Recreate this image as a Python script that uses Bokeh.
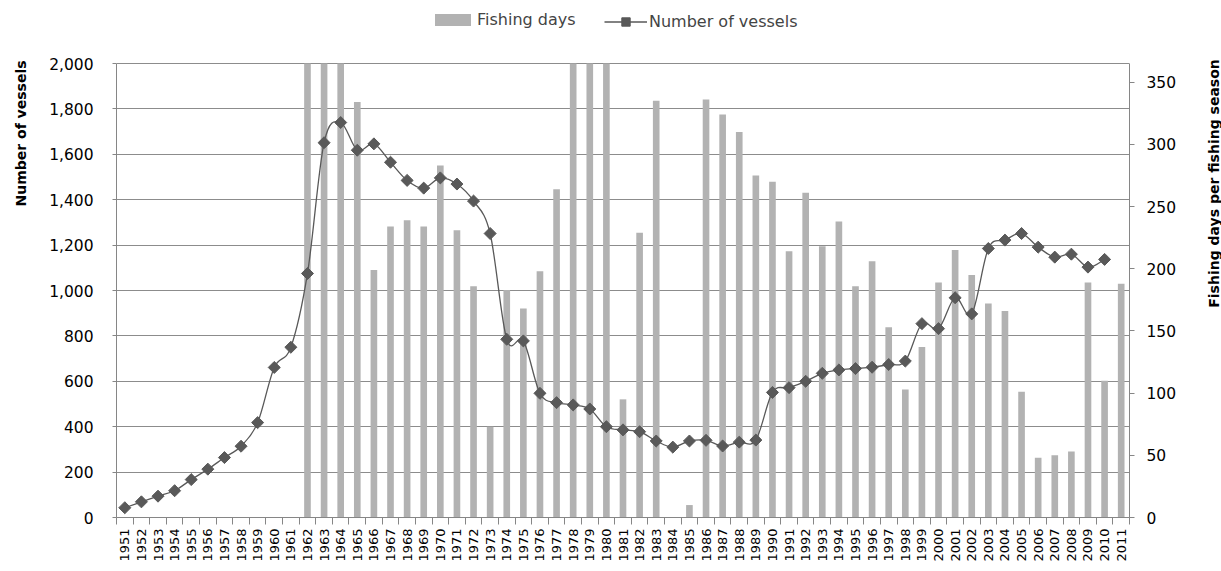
import math
from bokeh.plotting import figure
from bokeh.layouts import row
from bokeh.models import (Range1d, LinearAxis, FixedTicker, NumeralTickFormatter,
                          Legend, LegendItem, Label)
from bokeh.embed import file_html
from bokeh.resources import INLINE

years = list(range(1951, 2012))

# Fishing days per fishing season (right axis), 1951-2011
days = [0, 0, 0, 0, 0, 0, 0, 0, 0, 0, 0,
        365, 365, 365, 334, 199, 234, 239, 234, 283, 231,
        186, 73, 183, 168, 198, 264, 365, 365, 365, 95,
        229, 335, 0, 10, 336, 324, 310, 275, 270, 214,
        261, 218, 238, 186, 206, 153, 103, 137, 189, 215,
        195, 172, 166, 101, 48, 50, 53, 189, 110, 188]

# Number of vessels (left axis), 1951-2010
vessel_years = list(range(1951, 2011))
vessels = [43, 69, 94, 118, 167, 213, 264, 314, 418, 661,
           750, 1075, 1651, 1740, 1618, 1646, 1565, 1485, 1451, 1496,
           1469, 1394, 1251, 785, 778, 547, 506, 496, 478, 400,
           386, 378, 337, 310, 337, 340, 315, 332, 341, 551,
           572, 600, 635, 650, 656, 662, 674, 689, 854, 832,
           968, 897, 1185, 1222, 1251, 1191, 1147, 1160, 1103, 1137]

left_max, right_max = 2000, 365
left_ticks = list(range(0, 2001, 200))
right_ticks = list(range(0, 351, 50))

BAR = "#b2b2b2"
LINE = "#595959"
AXIS = "#868686"
FONT = "DejaVu Sans"

W, H = 1221, 571
LEFT_W, RIGHT_W = 32, 24
MAIN_W = W - LEFT_W - RIGHT_W
FRAME_TOP, GRID_TOP, FRAME_BOTTOM = 10, 63, 517   # layout (px, page coords)
FRAME_LEFT, FRAME_RIGHT = 116, 1129
ext = (FRAME_BOTTOM - FRAME_TOP) / (FRAME_BOTTOM - GRID_TOP)

p = figure(width=MAIN_W, height=H, output_backend="svg", toolbar_location=None,
           x_range=Range1d(1950.5, 2011.5), y_range=Range1d(0, left_max * ext),
           min_border_left=FRAME_LEFT - LEFT_W,
           min_border_right=(W - RIGHT_W) - FRAME_RIGHT,
           min_border_top=FRAME_TOP, min_border_bottom=H - FRAME_BOTTOM)
p.extra_y_ranges = {"days": Range1d(0, right_max * ext)}
p.outline_line_color = None
p.background_fill_color = "white"
p.xgrid.visible = False
p.ygrid.ticker = FixedTicker(ticks=left_ticks)
p.ygrid.grid_line_color = "#8c8c8c"
p.ygrid.grid_line_width = 1

# bars
bars = p.vbar(x=years, top=days, width=0.4, y_range_name="days",
              fill_color=BAR, line_color=None)

# smoothed line (Bezier segments through the data points)
n = len(vessels)
x0, y0, x1, y1, cx0, cy0, cx1, cy1 = [], [], [], [], [], [], [], []
for i in range(n - 1):
    xa, ya = vessel_years[i], vessels[i]
    xb, yb = vessel_years[i + 1], vessels[i + 1]
    xp, yp = (vessel_years[i - 1], vessels[i - 1]) if i > 0 else (xa, ya)
    xn, yn = (vessel_years[i + 2], vessels[i + 2]) if i + 2 < n else (xb, yb)
    x0.append(xa); y0.append(ya); x1.append(xb); y1.append(yb)
    cx0.append(xa + (xb - xp) / 6.0); cy0.append(ya + (yb - yp) / 6.0)
    cx1.append(xb - (xn - xa) / 6.0); cy1.append(yb - (yn - ya) / 6.0)
curve = p.bezier(x0=x0, y0=y0, x1=x1, y1=y1, cx0=cx0, cy0=cy0, cx1=cx1, cy1=cy1,
                 line_color=LINE, line_width=1.3)
marks = p.scatter(x=vessel_years, y=vessels, marker="square", angle=math.pi / 4,
                  size=8.5, fill_color=LINE, line_color=LINE)

# left axis
ly = p.yaxis[0]
ly.ticker = FixedTicker(ticks=left_ticks)
ly.formatter = NumeralTickFormatter(format="0,0")
ly.bounds = (0, left_max)
ly.major_tick_out = 4
ly.major_label_standoff = 19

# right axis
ry = LinearAxis(y_range_name="days", ticker=FixedTicker(ticks=right_ticks))
ry.bounds = (0, right_max)
ry.major_tick_out = 5
ry.major_label_standoff = 12
p.add_layout(ry, "right")

for ax in [ly, ry]:
    ax.axis_line_color = AXIS
    ax.major_tick_line_color = AXIS
    ax.major_tick_in = 0
    ax.minor_tick_line_color = None
    ax.major_label_text_font = FONT
    ax.major_label_text_font_size = "15.5px"
    ax.major_label_text_color = "black"

# x axis
xa = p.xaxis[0]
xa.ticker = FixedTicker(ticks=years, minor_ticks=[y - 0.5 for y in years] + [years[-1] + 0.5])
xa.axis_line_color = AXIS
xa.major_tick_out = 0
xa.major_tick_in = 0
xa.minor_tick_out = 7
xa.minor_tick_in = 0
xa.minor_tick_line_color = AXIS
xa.major_label_orientation = math.pi / 2
xa.major_label_text_font = FONT
xa.major_label_text_font_size = "13px"
xa.major_label_text_color = "black"
xa.major_label_standoff = 4

# legends (two, so the diamond marker can be drawn larger than the bar swatch)
LEG_CY = FRAME_BOTTOM - 29 + 7.5   # legend centre line, in frame screen units
common = dict(orientation="horizontal", label_text_font=FONT,
              label_text_font_size="16px", label_standoff=2,
              border_line_color=None, background_fill_alpha=0, padding=0, margin=0)
legend1 = Legend(items=[LegendItem(label="Fishing days", renderers=[bars])],
                 location=(430 - FRAME_LEFT, LEG_CY - 7.5),
                 glyph_width=45, glyph_height=15, label_height=15, **common)
legend2 = Legend(items=[LegendItem(label="Number of vessels", renderers=[curve, marks])],
                 location=(604 - FRAME_LEFT, LEG_CY - 10.5),
                 glyph_width=43, glyph_height=21, label_height=21, **common)
p.add_layout(legend1, "center")
p.add_layout(legend2, "center")


def title_panel(width, text, cx, cy):
    # frames of plots in a row are aligned, so screen y is measured from FRAME_BOTTOM
    f = figure(width=width, height=H, output_backend="svg", toolbar_location=None,
               x_range=Range1d(0, 1), y_range=Range1d(0, 1),
               x_axis_location=None, y_axis_location=None,
               min_border=0, outline_line_color=None)
    f.xgrid.visible = False
    f.ygrid.visible = False
    f.add_layout(Label(x=cx, y=FRAME_BOTTOM - cy, x_units="screen", y_units="screen",
                       text=text, angle=math.pi / 2,
                       text_align="center", text_baseline="middle",
                       text_font=FONT, text_font_style="bold",
                       text_font_size="14px", text_color="black"))
    return f


left_title = title_panel(LEFT_W, "Number of vessels", 20, 133)
right_title = title_panel(RIGHT_W, "Fishing days per fishing season", 1213 - (W - RIGHT_W), 183)

layout = row(left_title, p, right_title, spacing=0)
open("out.html", "w").write(file_html(layout, INLINE))
